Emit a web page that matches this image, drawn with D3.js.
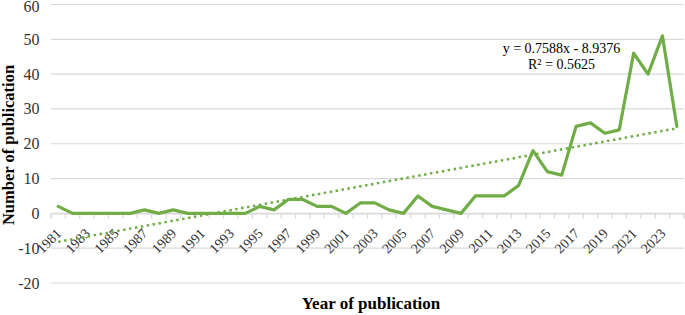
<!DOCTYPE html>
<html>
<head>
<meta charset="utf-8">
<script src="https://cdn.jsdelivr.net/npm/d3@7"></script>
<style>
  html, body { margin: 0; padding: 0; background: #fff; }
  svg { display: block; }
  text { font-family: "Liberation Serif", "Times New Roman", serif; }
</style>
</head>
<body>
<svg id="chart" width="685" height="315"></svg>
<script>
const years = d3.range(1981, 2025).map(String);
const publications = [2,0,0,0,0,0,1,0,1,0,0,0,0,0,2,1,4,4,2,2,0,3,3,1,0,5,2,1,0,5,5,5,8,18,12,11,25,26,23,24,46,40,51,25];
const yTicks = [-20,-10,0,10,20,30,40,50,60];
const trendSlope = 0.7588;
const trendIntercept = -8.9376;
const equationLines = ["y = 0.7588x - 8.9376", "R\u00b2 = 0.5625"];
const xLabel = "Year of publication";
const yLabel = "Number of publication";

(function () {
const svg = d3.select("#chart");
const mLeft = 51, mRight = 684, mTop = 4.5, mBottom = 283;

const x = d3.scaleBand().domain(years).range([mLeft, mRight]).paddingInner(0).paddingOuter(0);
const y = d3.scaleLinear().domain([-20, 60]).range([mBottom, mTop]);
const cx = d => x(d) + x.bandwidth() / 2;

// gridlines
svg.append("g").selectAll("line").data(yTicks).join("line")
  .attr("x1", mLeft).attr("x2", mRight)
  .attr("y1", d => y(d)).attr("y2", d => y(d))
  .attr("stroke", "#d9d9d9").attr("stroke-width", 1.2);

// y tick labels
svg.append("g").selectAll("text").data(yTicks).join("text")
  .attr("x", 39.5).attr("y", d => Math.max(y(d) + 5.5, 11.5))
  .attr("text-anchor", "end").attr("font-size", 16).attr("fill", "#333")
  .text(d => d);

// x axis at 0 with tick marks
const xAxis = d3.axisBottom(x).tickSize(5).tickFormat("");
const gx = svg.append("g").attr("transform", `translate(0,${y(0)})`).call(xAxis);
gx.select(".domain").attr("stroke", "#d9d9d9").attr("stroke-width", 1.2);
gx.selectAll(".tick").attr("transform", d => `translate(${x(d)},0)`);
gx.selectAll(".tick line").attr("stroke", "#d9d9d9").attr("stroke-width", 1.2);
gx.append("line").attr("x1", mRight).attr("x2", mRight).attr("y1", 0).attr("y2", 5)
  .attr("stroke", "#d9d9d9").attr("stroke-width", 1.2);

// x labels (every other year)
svg.append("g").selectAll("text").data(years.filter((d, i) => i % 2 === 0)).join("text")
  .attr("transform", d => `translate(${cx(d) + 4},${y(0) + 21}) rotate(-45)`)
  .attr("text-anchor", "end").attr("font-size", 14).attr("fill", "#333")
  .text(d => d);

// trend line (dotted)
const n = years.length;
svg.append("line")
  .attr("x1", cx(years[0])).attr("y1", y(trendSlope * 1 + trendIntercept))
  .attr("x2", cx(years[n - 1])).attr("y2", y(trendSlope * n + trendIntercept))
  .attr("stroke", "#70AD47").attr("stroke-width", 2.5)
  .attr("stroke-dasharray", "2.5,3.5");

// data line
const line = d3.line().x((d, i) => cx(years[i])).y(d => y(d));
svg.append("path").datum(publications)
  .attr("d", line).attr("fill", "none")
  .attr("stroke", "#70AD47").attr("stroke-width", 3.2)
  .attr("stroke-linejoin", "round").attr("stroke-linecap", "round");

// equation
svg.append("g").selectAll("text").data(equationLines).join("text")
  .attr("x", 561.5).attr("y", (d, i) => 52.5 + i * 16.5)
  .attr("text-anchor", "middle").attr("font-size", 14).attr("fill", "#000")
  .text(d => d);

// axis titles
svg.append("text").attr("x", 371).attr("y", 309)
  .attr("text-anchor", "middle").attr("font-size", 17).attr("font-weight", "bold")
  .text(xLabel);
svg.append("text").attr("transform", "translate(13.5,145) rotate(-90)")
  .attr("text-anchor", "middle").attr("font-size", 16.5).attr("font-weight", "bold")
  .text(yLabel);
})();
</script>
</body>
</html>
